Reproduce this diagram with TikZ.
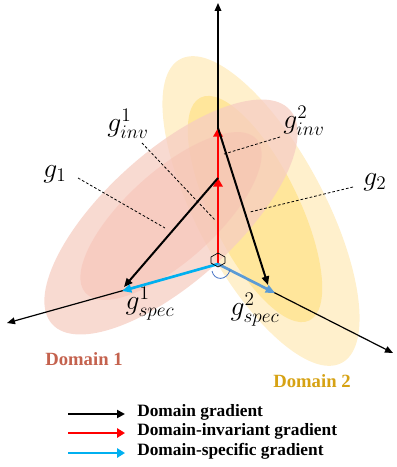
\documentclass[tikz,border=0pt]{standalone}
\usepackage{fontspec}
\setmainfont{Liberation Serif}
\usetikzlibrary{arrows.meta}
\definecolor{pinkout}{RGB}{246,205,194}
\definecolor{pinkin}{RGB}{246,192,178}
\definecolor{yelout}{RGB}{255,240,204}
\definecolor{yelin}{RGB}{255,230,155}
\definecolor{invred}{RGB}{255,0,0}
\definecolor{specA}{RGB}{0,176,240}
\definecolor{specB}{RGB}{91,155,213}
\definecolor{arcblue}{RGB}{68,114,196}
\definecolor{domA}{RGB}{196,98,78}
\definecolor{domB}{RGB}{214,162,20}
\tikzset{
  axis/.style={line width=0.9pt, -{Triangle[length=6pt,width=5pt]}},
  grad/.style={line width=1.5pt, -{Triangle[length=6.5pt,width=5.5pt]}},
  invgrad/.style={invred, line width=2pt, -{Triangle[length=6.5pt,width=7pt]}},
  specgrad/.style={line width=2pt, -{Triangle[length=7pt,width=6pt]}},
  leader/.style={line width=0.6pt, dash pattern=on 2pt off 1.5pt},
  glabel/.style={font=\fontsize{20.5}{24}\selectfont, inner sep=0pt},
  domlabel/.style={font=\fontsize{14}{16}\selectfont\bfseries, inner sep=0pt},
  legtext/.style={font=\fontsize{13}{15}\selectfont\bfseries, anchor=west, inner sep=0pt},
}
\begin{document}
\begin{tikzpicture}[x=0.75pt,y=-0.75pt]
\useasboundingbox (0,0) rectangle (396,467);

% domain regions
\fill[yelout, rotate around={-62:(261,211)}] (261,211) ellipse (172 and 64);
\fill[yelin, rotate around={-64:(255,209)}] (255,209) ellipse (124 and 44);
\fill[pinkout, fill opacity=0.75, rotate around={42:(171,217)}] (171,217) ellipse (160 and 65);
\fill[pinkin, fill opacity=0.5, rotate around={42:(171,216)}] (171,216) ellipse (115 and 45);

% key points
\coordinate (O) at (218,264);
\coordinate (Yt) at (218,3);
\coordinate (Xl) at (7,323);
\coordinate (Xr) at (393,353);
\coordinate (I1) at (218,178);
\coordinate (I2) at (218,128);
\coordinate (S1) at (122,291);
\coordinate (S2) at (275,293);
\coordinate (G1) at (124,287);
\coordinate (G2) at (268,285);

% labels
\node[glabel] (lg1) at (55,174) {$g_1$};
\node[glabel] (linv1) at (128,124) {$g^{1}_{inv}$};
\node[glabel] (linv2) at (304,121) {$g^{2}_{inv}$};
\node[glabel] (lg2) at (375,182) {$g_2$};
\node[glabel] (lspec1) at (150,304) {$g^{1}_{spec}$};
\node[glabel] (lspec2) at (255,310) {$g^{2}_{spec}$};

% leader lines
\coordinate (e1) at (165,228);
\coordinate (e2) at (215,220);
\coordinate (e3) at (224,154);
\coordinate (e4) at (250,212);
\draw[leader] (78,178) coordinate (b1) -- (e1);
\draw[leader] (142,143) coordinate (b2) -- (e2);
\draw[leader] (280,137) coordinate (b3) -- (e3);
\draw[leader] (353,187) coordinate (b4) -- (e4);

% axes
\draw[axis] (O) -- (Yt);
\draw[axis] (O) -- (Xl);
\draw[axis] (O) -- (Xr);

% invariant components
\draw[invgrad] (O) -- (I1);
\draw[invgrad] (O) -- (I2);

% domain gradients
\draw[grad] (I1) -- (G1);
\draw[grad] (I2) -- (G2);

% specific components
\draw[specgrad, specA] (O) -- (S1);
\draw[specgrad, specB] (O) -- (S2);

% right-angle marker and angle arc
\draw[line width=0.5pt] (218,253) -- (225,257) -- (225,263) -- (218,267) -- (211,263) -- (211,257) -- cycle;
\draw[arcblue, line width=0.6pt] (212,271) .. controls (214,281) and (227,281) .. (230,270);

% domain names
\node[domlabel, text=domA] (d1) at (84,359) {Domain 1};
\node[domlabel, text=domB] (d2) at (312,381) {Domain 2};

% legend
\coordinate (k1a) at (68,414); \coordinate (k1b) at (125,414);
\coordinate (k2a) at (68,433); \coordinate (k2b) at (125,433);
\coordinate (k3a) at (68,453); \coordinate (k3b) at (125,453);
\draw[line width=1.5pt, -{Triangle[length=6pt,width=6pt]}] (k1a) -- (k1b);
\draw[invred, line width=2pt, -{Triangle[length=6pt,width=7pt]}] (k2a) -- (k2b);
\draw[specA, line width=2pt, -{Triangle[length=6pt,width=7pt]}] (k3a) -- (k3b);
\node[legtext] (t1) at (137,412) {Domain gradient};
\node[legtext] (t2) at (137,431) {Domain-invariant gradient};
\node[legtext] (t3) at (137,451) {Domain-specific gradient};
\end{tikzpicture}
\end{document}
